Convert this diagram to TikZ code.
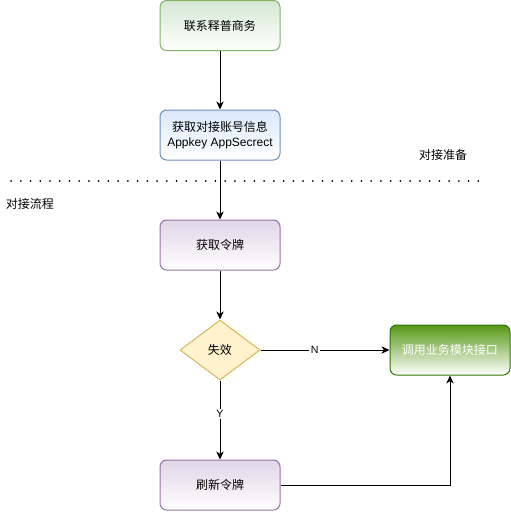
\documentclass[tikz,border=0pt]{standalone}
\usepackage{fontspec}
\setmainfont{Liberation Sans}
\newfontfamily\cjk{Noto Sans CJK SC}
\usetikzlibrary{arrows.meta,shapes.geometric}
\definecolor{gfill}{HTML}{D5E8D4}
\definecolor{gline}{HTML}{82B366}
\definecolor{bfill}{HTML}{DAE8FC}
\definecolor{bline}{HTML}{6C8EBF}
\definecolor{pfill}{HTML}{E1D5E7}
\definecolor{pline}{HTML}{9673A6}
\definecolor{yfill}{HTML}{FFF2CC}
\definecolor{yline}{HTML}{D6B656}
\definecolor{dgfill}{HTML}{60A917}
\definecolor{dgline}{HTML}{2D7600}
\begin{document}
\begin{tikzpicture}[x=0.75pt,y=-0.75pt,
  boxbase/.style={rectangle,rounded corners=5pt,minimum width=90pt,minimum height=37.5pt,inner sep=1pt,align=center,font=\fontsize{9pt}{11pt}\selectfont,line width=0.75pt,bottom color=white},
  greenbox/.style={boxbase,draw=gline,top color=gfill},
  bluebox/.style={boxbase,draw=bline,top color=bfill},
  purplebox/.style={boxbase,draw=pline,top color=pfill},
  darkbox/.style={boxbase,draw=dgline,top color=dgfill!90!black,middle color=dgfill!85,bottom color=white,text=white},
  decision/.style={diamond,aspect=1.333,draw=yline,fill=yfill,minimum width=60pt,minimum height=45pt,inner sep=0pt,font=\fontsize{9pt}{11pt}\selectfont,line width=0.75pt},
  conn/.style={line width=0.75pt,-{Stealth[length=6pt,width=5.5pt,inset=1.8pt]}},
  lbl/.style={fill=white,inner sep=1pt,font=\fontsize{8pt}{10pt}\selectfont},
  plain/.style={font=\fontsize{9pt}{11pt}\selectfont\cjk,inner sep=0pt}]
\useasboundingbox (0,0) rectangle (511,512);
\node[greenbox] (a) at (220,25.5) {\cjk 联系释普商务};
\node[bluebox] (b) at (220,135) {{\cjk 获取对接账号信息}\\Appkey AppSecrect};
\node[purplebox] (c) at (220,245) {\cjk 获取令牌};
\node[decision] (d) at (220,350) {\cjk 失效};
\node[darkbox] (e) at (450,350) {\cjk 调用业务模块接口};
\node[purplebox] (f) at (220,485) {\cjk 刷新令牌};
\node[plain] (t1) at (443,155) {对接准备};
\node[plain] (t2) at (30,204) {对接流程};
\coordinate (l1) at (11,181);
\coordinate (l2) at (485,181);
\draw[line width=1.3pt,dash pattern=on 0.1pt off 7.2pt,line cap=round] (l1) -- (l2);
\draw[conn] (a) -- (b);
\draw[conn] (b) -- (c);
\draw[conn] (c) -- (d);
\draw[conn] (d) -- node[lbl,pos=0.42] {N} (e);
\draw[conn] (d) -- node[lbl,pos=0.42] {Y} (f);
\draw[conn] (f.east) -| (e.south);
\end{tikzpicture}
\end{document}
